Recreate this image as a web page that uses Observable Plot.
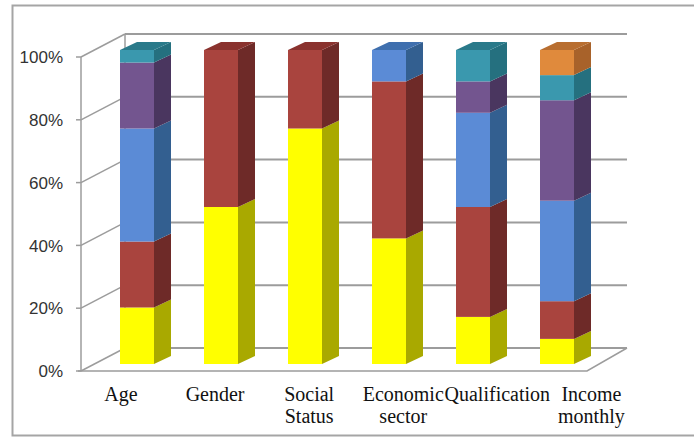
<!DOCTYPE html>
<html><head><meta charset="utf-8">
<script src="https://cdn.jsdelivr.net/npm/d3@7"></script>
<script src="https://cdn.jsdelivr.net/npm/@observablehq/plot@0.6"></script>
<style>body{margin:0;background:#fff} svg{display:block;background:#fff}</style>
</head><body><div id="chart"></div>
<script>
// ---- data ----
const categories = ["Age", "Gender", "Social Status", "Economic sector", "Qualification", "Income monthly"];
const categoryLines = [["Age"], ["Gender"], ["Social", "Status"], ["Economic", "sector"], ["Qualification"], ["Income", "monthly"]];
const layers = ["Series 1", "Series 2", "Series 3", "Series 4", "Series 5", "Series 6"];
const series1 = [18, 50, 75, 40, 15, 8];
const series2 = [21, 50, 25, 50, 35, 12];
const series3 = [36, 0, 0, 10, 30, 32];
const series4 = [21, 0, 0, 0, 10, 32];
const series5 = [4, 0, 0, 0, 10, 8];
const series6 = [0, 0, 0, 0, 0, 8];
const yTicks = [0, 20, 40, 60, 80, 100];
const yTickLabels = ["0%", "20%", "40%", "60%", "80%", "100%"];

// ---- styles ----
const frontColors = ["#ffff00", "#a9443e", "#5b8bd6", "#73558f", "#3a98ae", "#e08a3c"];
const sideColors  = ["#a9a900", "#6e2a28", "#335f90", "#4a365f", "#25707f", "#a8622a"];
const topColors   = ["#cccc00", "#8a322e", "#3f6fae", "#5a4275", "#2a7a8a", "#b86e30"];
const DEPTH_X = 17, DEPTH_Y = 8;        // bar depth
const FRONT_DX = -13, FRONT_DY = 7;     // front axis plane offset
const BACK_DX = 31, BACK_DY = -16;      // back wall offset
const gridColor = "#9c9c9c";

const allSeries = [series1, series2, series3, series4, series5, series6];
const table = [];
categories.forEach((c, i) => {
  let acc = 0;
  allSeries.forEach((vals, j) => {
    const v = vals[i];
    if (v > 0) { table.push({cat: c, layer: layers[j], li: j, y1: acc, y2: acc + v, top: false}); acc += v; }
  });
  table[table.length - 1].top = true;
});

const W = 694, H = 437;

function wallMark(index, scales, values, dim) {
  const g = d3.create("svg:g");
  const y = scales.y;
  const fx = dim.marginLeft + FRONT_DX;
  const frontRight = dim.width - dim.marginRight + FRONT_DX;
  const bx = dim.marginLeft + BACK_DX;
  const backRight = frontRight + 40;
  g.append("path").attr("d", `M${W + 5},5.5 H12.5 V${H - 1.5} H${W + 5}`)
    .attr("fill", "none").attr("stroke", "#a5a5a5").attr("stroke-width", 2);
  for (const t of yTicks) {
    const yy = y(t) + BACK_DY;
    g.append("line").attr("x1", bx).attr("x2", backRight).attr("y1", yy).attr("y2", yy)
      .attr("stroke", gridColor).attr("stroke-width", 2);
    g.append("line").attr("x1", fx).attr("y1", y(t) + FRONT_DY).attr("x2", bx).attr("y2", yy)
      .attr("stroke", gridColor).attr("stroke-width", 1.5);
    g.append("line").attr("x1", fx - 5).attr("x2", fx).attr("y1", y(t) + FRONT_DY).attr("y2", y(t) + FRONT_DY)
      .attr("stroke", gridColor).attr("stroke-width", 1.5);
  }
  g.append("line").attr("x1", bx).attr("x2", bx).attr("y1", y(100) + BACK_DY).attr("y2", y(0) + BACK_DY)
    .attr("stroke", gridColor).attr("stroke-width", 1.5);
  g.append("line").attr("x1", fx).attr("x2", fx).attr("y1", y(100) + FRONT_DY).attr("y2", y(0) + FRONT_DY)
    .attr("stroke", gridColor).attr("stroke-width", 1.5);
  g.append("path").attr("d", `M${fx - 3},${y(0) + FRONT_DY} H${frontRight} L${backRight},${y(0) + BACK_DY}`)
    .attr("fill", "none").attr("stroke", gridColor).attr("stroke-width", 1.5);
  yTicks.forEach((t, k) => {
    g.append("text").attr("x", fx - 18).attr("y", y(t) + FRONT_DY).attr("dy", "0.36em")
      .attr("text-anchor", "end").attr("font-family", "Liberation Sans, Arial, sans-serif")
      .attr("font-size", 17).attr("fill", "#333").text(yTickLabels[k]);
  });
  return g.node();
}

function depthMark(index, scales, values, dim) {
  const g = d3.create("svg:g");
  const x = scales.x, y = scales.y;
  const bw = x.bandwidth();
  for (const d of table) {
    const xl = x(d.cat), xr = xl + bw;
    const ya = y(d.y1), yb = y(d.y2);
    g.append("polygon")
      .attr("points", `${xr},${ya} ${xr + DEPTH_X},${ya - DEPTH_Y} ${xr + DEPTH_X},${yb - DEPTH_Y} ${xr},${yb}`)
      .attr("fill", sideColors[d.li]);
    if (d.top) {
      g.append("polygon")
        .attr("points", `${xl},${yb} ${xr},${yb} ${xr + DEPTH_X},${yb - DEPTH_Y} ${xl + DEPTH_X},${yb - DEPTH_Y}`)
        .attr("fill", topColors[d.li]);
    }
  }
  return g.node();
}

function labelMark(index, scales, values, dim) {
  const g = d3.create("svg:g");
  const x = scales.x, y = scales.y;
  const c0 = x(categories[0]) + x.bandwidth() / 2 - 16;
  const step = x.step() * 1.12;
  categoryLines.forEach((lines, i) => {
    const t = g.append("text").attr("text-anchor", "middle")
      .attr("font-family", "Liberation Serif, Times New Roman, serif")
      .attr("font-size", 20).attr("fill", "#111");
    lines.forEach((ln, k) => {
      t.append("tspan").attr("x", c0 + i * step).attr("y", y(0) + 37 + k * 22).text(ln);
    });
  });
  return g.node();
}

const chart = Plot.plot({
  width: W, height: H,
  marginLeft: 94, marginRight: 94, marginTop: 50, marginBottom: 73,
  x: {type: "band", domain: categories, paddingInner: 0.6, paddingOuter: 0.3, axis: null},
  y: {domain: [0, 100], axis: null},
  color: {domain: layers, range: frontColors},
  style: {background: "#fff"},
  marks: [
    wallMark,
    Plot.barY(table, {x: "cat", y1: "y1", y2: "y2", fill: "layer"}),
    depthMark,
    labelMark
  ]
});
document.getElementById("chart").appendChild(chart);
</script>
</body></html>
